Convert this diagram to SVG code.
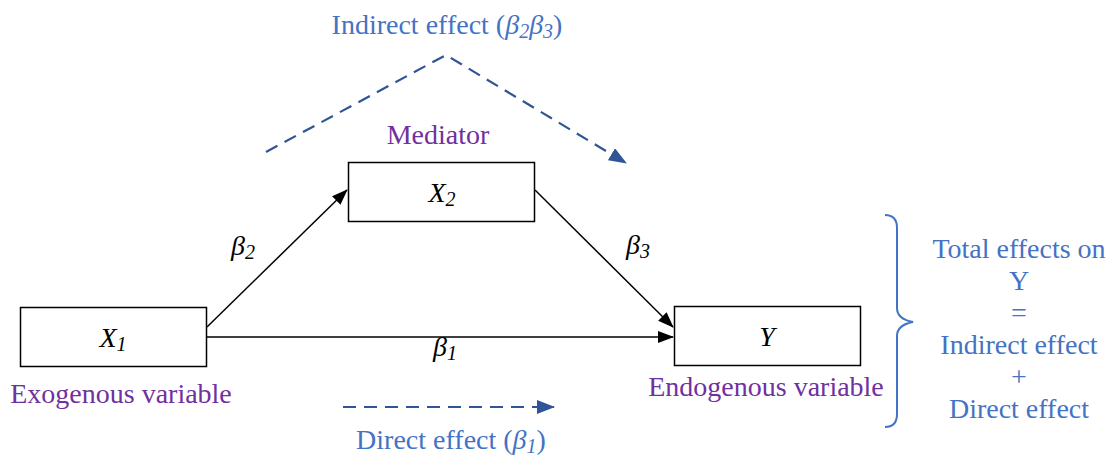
<svg xmlns="http://www.w3.org/2000/svg" width="1113" height="457" viewBox="0 0 1113 457">
<style>
.blue{fill:#4472C4}
.purple{fill:#7030A0}
.it{font-style:italic;fill:#000}
.box{fill:#fff;stroke:#000;stroke-width:1.5}
.sol{stroke:#000;stroke-width:1.5;fill:none}
.dash{stroke:#2F5597;stroke-width:2.2;fill:none;stroke-dasharray:13 8}
</style>
<defs>
<marker id="ah" markerWidth="16" markerHeight="12" refX="15" refY="6" orient="auto" markerUnits="userSpaceOnUse"><path d="M0,0 L16,6 L0,12 Z" fill="#000"/></marker>
<marker id="bh" markerWidth="18" markerHeight="14" refX="17" refY="7" orient="auto" markerUnits="userSpaceOnUse"><path d="M0,0 L18,7 L0,14 Z" fill="#2F5597"/></marker>
</defs>
<g id="connectors">
<line class="sol" x1="207" y1="327" x2="347" y2="190" marker-end="url(#ah)"/>
<line class="sol" x1="207" y1="337" x2="673" y2="337" marker-end="url(#ah)"/>
<line class="sol" x1="535" y1="190" x2="673" y2="327" marker-end="url(#ah)"/>
<polyline class="dash" points="266,152 446,55 626,163" marker-end="url(#bh)"/>
<line class="dash" x1="343" y1="407" x2="554" y2="407" marker-end="url(#bh)"/>
<path d="M885,215 Q897,215 897,228 L897,308 Q897,319 913,322 Q897,325 897,336 L897,414 Q897,427 885,427" fill="none" stroke="#4472C4" stroke-width="2"/>
</g>
<g id="x1">
<rect class="box" x="20.5" y="307.5" width="186" height="59"/>
<text font-family="Liberation Serif" font-size="28" class="it" x="113" y="347" text-anchor="middle">X<tspan font-size="20" dy="4">1</tspan></text>
<text font-family="Liberation Serif" font-size="28" class="purple" x="121" y="403" text-anchor="middle">Exogenous variable</text>
</g>
<g id="x2">
<rect class="box" x="348.5" y="162.5" width="186" height="59"/>
<text font-family="Liberation Serif" font-size="28" class="it" x="442" y="202" text-anchor="middle">X<tspan font-size="20" dy="4">2</tspan></text>
<text font-family="Liberation Serif" font-size="28" class="purple" x="438" y="144" text-anchor="middle">Mediator</text>
</g>
<g id="y">
<rect class="box" x="674.5" y="306.5" width="186" height="59"/>
<text font-family="Liberation Serif" font-size="28" class="it" x="767" y="346" text-anchor="middle">Y</text>
<text font-family="Liberation Serif" font-size="28" class="purple" x="766" y="396" text-anchor="middle">Endogenous variable</text>
</g>
<g id="labels">
<text font-family="Liberation Serif" font-size="28" class="it" x="231" y="255">β<tspan font-size="20" dy="4">2</tspan></text>
<text font-family="Liberation Serif" font-size="28" class="it" x="433" y="356">β<tspan font-size="20" dy="4">1</tspan></text>
<text font-family="Liberation Serif" font-size="28" class="it" x="626" y="254">β<tspan font-size="20" dy="4">3</tspan></text>
<text font-family="Liberation Serif" font-size="28" class="blue" x="447" y="34" text-anchor="middle">Indirect effect (<tspan font-style="italic">β<tspan font-size="20" dy="4">2</tspan><tspan dy="-4">β</tspan><tspan font-size="20" dy="4">3</tspan></tspan><tspan dy="-4">)</tspan></text>
<text font-family="Liberation Serif" font-size="28" class="blue" x="451" y="449" text-anchor="middle">Direct effect (<tspan font-style="italic">β<tspan font-size="20" dy="4">1</tspan></tspan><tspan dy="-4">)</tspan></text>
</g>
<g id="total">
<text font-family="Liberation Serif" font-size="28" class="blue" x="1019" y="258" text-anchor="middle">Total effects on</text>
<text font-family="Liberation Serif" font-size="28" class="blue" x="1019" y="290" text-anchor="middle">Y</text>
<text font-family="Liberation Serif" font-size="28" class="blue" x="1019" y="322" text-anchor="middle">=</text>
<text font-family="Liberation Serif" font-size="28" class="blue" x="1019" y="354" text-anchor="middle">Indirect effect</text>
<text font-family="Liberation Serif" font-size="28" class="blue" x="1019" y="386" text-anchor="middle">+</text>
<text font-family="Liberation Serif" font-size="28" class="blue" x="1019" y="418" text-anchor="middle">Direct effect</text>
</g>
</svg>
